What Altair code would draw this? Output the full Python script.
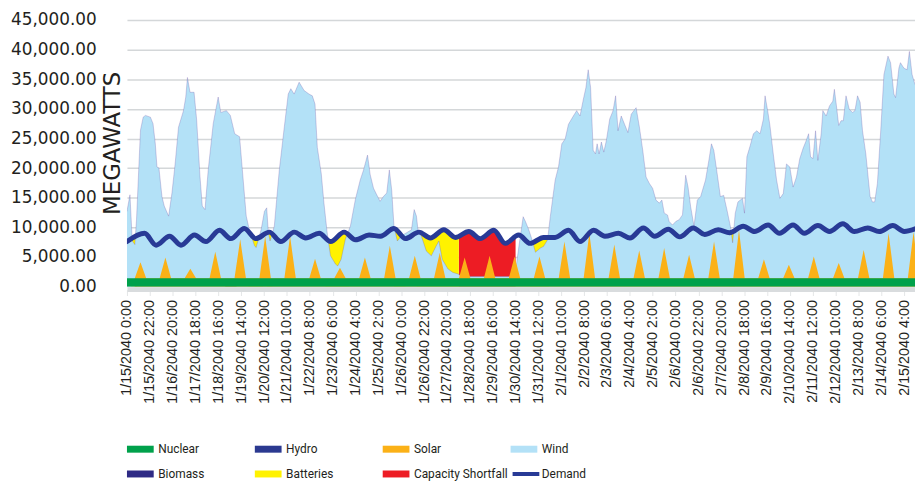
import altair as alt
import pandas as pd

# ---------------- categories / legend ----------------
SERIES = ["Nuclear", "Hydro", "Solar", "Wind", "Biomass", "Batteries",
          "Capacity Shortfall", "Demand"]
COLORS = ["#00A14B", "#2B3990", "#FBB117", "#B3E1F7", "#2E2A85", "#FFF200",
          "#ED1C24", "#283A96"]
RECT = "M-2,-0.52H2V0.52H-2Z"
LINE = "M-1.7,-0.3H2.3V0.3H-1.7Z"
SHAPES = [RECT] * 7 + [LINE]

# ---------------- x axis (hours since 1/15/2040 0:00) ----------------
TICK_HOURS = list(range(0, 749, 22))
TICK_LABELS = [
    "1/15/2040 0:00", "1/15/2040 22:00", "1/16/2040 20:00", "1/17/2040 18:00",
    "1/18/2040 16:00", "1/19/2040 14:00", "1/20/2040 12:00", "1/21/2040 10:00",
    "1/22/2040 8:00", "1/23/2040 6:00", "1/24/2040 4:00", "1/25/2040 2:00",
    "1/26/2040 0:00", "1/26/2040 22:00", "1/27/2040 20:00", "1/28/2040 18:00",
    "1/29/2040 16:00", "1/30/2040 14:00", "1/31/2040 12:00", "2/1/2040 10:00",
    "2/2/2040 8:00", "2/3/2040 6:00", "2/4/2040 4:00", "2/5/2040 2:00",
    "2/6/2040 0:00", "2/6/2040 22:00", "2/7/2040 20:00", "2/8/2040 18:00",
    "2/9/2040 16:00", "2/10/2040 14:00", "2/11/2040 12:00", "2/12/2040 10:00",
    "2/13/2040 8:00", "2/14/2040 6:00", "2/15/2040 4:00",
]
X_MAX = 758.4
Y_TICKS = [0, 5000, 10000, 15000, 20000, 25000, 30000, 35000, 40000, 45000]

# ---------------- series values (MW) ----------------
NUCLEAR_MW = 1400

# daily solar peak generation, one value per day (1/15 .. 2/15)
SOLAR_PEAK_MW = [2700, 3500, 1600, 4500, 6600, 7100, 7100, 3300, 1800, 3500,
                 5500, 3800, 4300, 3500, 3800, 3700, 3700, 6200, 7600, 5700,
                 4700, 5100, 4000, 6200, 8100, 3200, 2300, 3700, 2600, 4800,
                 7600, 7800]

# top of the stacked wind band (hour, MW)
WIND_TOP = [
    (0, 12700), (2.9, 15500), (5.1, 7700), (7.6, 7100), (9.2, 11300), (13.0, 26400),
    (15.6, 28600), (17.8, 28900), (22.6, 28600), (25.1, 27500), (27.3, 24100),
    (28.9, 20200), (30.8, 20000), (33.7, 15200), (35.9, 13600), (40.1, 11900),
    (43.3, 15800), (46.4, 20800), (49.6, 26900), (54.4, 29700), (56.6, 32000),
    (58.2, 35300), (60.7, 32800), (64.6, 32800), (67.1, 28100), (70.3, 18600),
    (72.5, 13600), (75.1, 13000), (78.2, 19700), (83.0, 27500), (87.8, 32000),
    (90.3, 29400), (95.7, 29700), (99.5, 28900), (103.7, 25800), (108.4, 25300),
    (111.6, 18600), (114.8, 11900), (118.0, 9400), (122.8, 6900), (124.3, 6600),
    (129.1, 9600), (132.3, 12700), (134.5, 13300), (136.1, 9100), (137.7, 7700),
    (141.8, 10200), (146.6, 19700), (151.4, 26900), (155.2, 32500), (157.7, 33400),
    (160.9, 32500), (165.7, 34500), (170.5, 33100), (175.2, 32500), (178.4, 32200),
    (181.0, 30800), (183.2, 23500), (187.0, 19100), (189.6, 14100), (192.7, 9100),
    (195.9, 5200), (200.7, 3800), (202.9, 3500), (206.1, 4600), (210.2, 8000),
    (215.0, 10200), (219.8, 14700), (224.5, 18000), (227.7, 19700), (231.5, 22200),
    (234.1, 18900), (237.3, 16600), (240.4, 15500), (243.6, 14400), (246.8, 15200),
    (250.0, 15800), (252.5, 19700), (254.8, 16300), (257.0, 10200), (260.2, 7700),
    (264.3, 8600), (269.1, 9100), (273.8, 9600), (276.4, 13000), (278.6, 11900),
    (280.2, 9400), (283.4, 8500), (288.1, 6000), (292.9, 5200), (297.7, 6900),
    (300.2, 7700), (303.4, 4600), (308.8, 3000), (313.6, 2400), (319.3, 2100),
    (321.5, 1700), (372.0, 1700), (373.7, 2300), (377.2, 6800), (381.3, 11800),
    (383.5, 11000), (386.7, 9600), (389.9, 7900), (393.1, 5800), (397.8, 6500),
    (401.0, 6800), (404.8, 7900), (407.4, 11800), (412.1, 18000), (415.3, 20200),
    (418.5, 24100), (421.7, 24900), (424.9, 27400), (429.6, 28800), (432.8, 29700),
    (436.0, 28800), (439.2, 31600), (441.7, 33600), (443.9, 36600), (446.2, 33600),
    (448.7, 23000), (450.9, 22400), (452.5, 24100), (454.4, 22400), (456.6, 24400),
    (458.9, 22700), (461.4, 24700), (464.6, 28300), (467.8, 29700), (470.3, 32200),
    (472.6, 26300), (475.7, 28800), (478.9, 27400), (482.1, 26000), (485.3, 29100),
    (490.0, 30200), (493.2, 26900), (496.4, 23000), (499.6, 18500), (502.8, 17400),
    (505.9, 16600), (509.1, 14600), (512.3, 14100), (514.8, 14600), (517.1, 12400),
    (520.2, 12100), (521.8, 11000), (525.0, 10400), (528.2, 11000), (531.4, 11300),
    (534.6, 12100), (537.7, 18800), (540.0, 16800), (542.5, 13500), (545.7, 10200),
    (548.9, 14600), (552.1, 15200), (556.8, 18000), (560.0, 21300), (562.5, 24100),
    (564.8, 23000), (568.0, 19100), (571.1, 15200), (574.3, 15400), (577.5, 12900),
    (580.7, 10200), (582.9, 7400), (585.4, 12400), (588.0, 14300), (592.4, 14900),
    (594.3, 12400), (596.6, 21900), (599.8, 23800), (602.9, 25800), (606.1, 26300),
    (609.3, 25800), (612.5, 28300), (614.1, 32200), (616.6, 29700), (618.8, 27200),
    (622.0, 22400), (625.2, 18000), (628.4, 14900), (631.6, 15700), (634.7, 20700),
    (637.9, 20200), (641.1, 16800), (644.3, 18500), (647.5, 21600), (650.6, 23300),
    (653.8, 24700), (656.0, 25800), (657.9, 21900), (660.2, 21600), (662.7, 26300),
    (664.9, 21300), (668.1, 25800), (669.7, 29700), (672.9, 28800), (676.1, 30500),
    (679.3, 31300), (680.8, 33300), (682.4, 31100), (685.0, 27200), (687.2, 28000),
    (689.4, 28000), (692.0, 32200), (695.2, 29900), (698.3, 29400), (700.6, 29700),
    (703.1, 32200), (705.6, 31100), (707.9, 26300), (711.1, 22400), (713.3, 18500),
    (715.2, 15200), (717.4, 14300), (719.6, 14300), (722.2, 17400), (725.4, 26300),
    (728.5, 35800), (732.4, 38900), (734.9, 37800), (738.1, 32500), (739.7, 31900),
    (742.9, 36900), (744.4, 37800), (747.6, 36900), (750.8, 36600), (753.0, 39700),
    (755.6, 35800), (758.4, 34100),
]

# top of the battery band, visible stretches (segment, hour, MW)
BATTERY_TOP = [
    (1, 4, 7800), (1, 6, 8000), (1, 8, 8200), (1, 9.5, 8400),
    (2, 117, 8900), (2, 120, 8400), (2, 124, 7900), (2, 128, 8100), (2, 131, 8500),
    (3, 135, 8900), (3, 137.5, 9000), (3, 140, 8900),
    (4, 191, 8300), (4, 194, 7800), (4, 197, 7500), (4, 201, 8000), (4, 205, 8500),
    (4, 209, 9000), (4, 212, 9000), (4, 214, 8700),
    (5, 257, 9600), (5, 259, 9400), (5, 261, 9000), (5, 264, 8500), (5, 268, 8200),
    (6, 279, 9000), (6, 283, 9100), (6, 288, 8600), (6, 292, 8100), (6, 297, 8600),
    (6, 301, 9200), (6, 305, 9400), (6, 309, 9200), (6, 313, 8600), (6, 317, 8200),
    (6, 319.4, 8300),
    (7, 388, 7200), (7, 392, 7500), (7, 396, 7900), (7, 400, 8200), (7, 404, 8100),
    (7, 406, 7900),
    (8, 580, 8900), (8, 582.5, 8900), (8, 585, 9000),
]

# top of the capacity-shortfall band (hour, MW)
SHORTFALL_TOP = [
    (319.4, 8300), (323, 8600), (326, 9000), (329, 9200), (333, 9000), (337, 8500),
    (340, 8000), (344, 8400), (348, 9000), (353, 9400), (357, 9100), (361, 8100),
    (364, 7200), (368, 7600), (371, 8100), (374, 8400),
]

# demand: start value, daily early-morning lows (days 2..32) and evening highs
DEMAND_START_MW = 7600
DEMAND_LOW_MW = [7000, 7000, 7600, 8100, 8100, 7600, 8200, 7600, 7900, 8500,
                 8100, 8200, 8300, 8100, 7300, 7300, 8300, 7600, 8500, 8200,
                 8500, 8400, 8800, 9100, 9300, 9000, 9000, 9300, 9300, 9300, 9300]
DEMAND_HIGH_MW = [9000, 8500, 8700, 9500, 9800, 9200, 9200, 9000, 9200, 8700,
                  9800, 9200, 9600, 9300, 9500, 8700, 8300, 9500, 9500, 9000,
                  9900, 9700, 9900, 9600, 10200, 10400, 10400, 10300, 10600, 9900,
                  10300, 9900]

# ---------------- tables ----------------
nuclear_df = pd.DataFrame({"h": [0, X_MAX], "mw": [NUCLEAR_MW, NUCLEAR_MW]})

solar_rows = []
for d, peak in enumerate(SOLAR_PEAK_MW):
    solar_rows += [(24 * d + 7.5, NUCLEAR_MW), (24 * d + 13, NUCLEAR_MW + peak),
                   (24 * d + 18.5, NUCLEAR_MW)]
solar_df = pd.DataFrame(solar_rows, columns=["h", "mw"])

wind_df = pd.DataFrame(WIND_TOP, columns=["h", "mw"])
battery_df = pd.DataFrame(BATTERY_TOP, columns=["seg", "h", "mw"])
short_df = pd.DataFrame(SHORTFALL_TOP, columns=["h", "mw"])

dem_rows = [(0, DEMAND_START_MW)]
for d, hi in enumerate(DEMAND_HIGH_MW):
    if d >= 1:
        dem_rows.append((24 * d + 4, DEMAND_LOW_MW[d - 1]))
    dem_rows.append((24 * d + 17, hi))
demand_df = pd.DataFrame(dem_rows, columns=["h", "mw"])

legend_df = pd.DataFrame({"series": SERIES, "h": [100.0] * 8, "mw": [300.0] * 8})

# ---------------- encodings ----------------
labels_js = "[" + ",".join("'" + s + "'" for s in TICK_LABELS) + "]"
x_axis = alt.Axis(
    values=TICK_HOURS, labelExpr=f"{labels_js}[round(datum.value / 22)]",
    labelAngle=270, labelFont="Liberation Sans", labelFontSize=14.5,
    labelColor="#231F20", labelPadding=4, labelOverlap=False,
    domainColor="#D9DCDE", domainWidth=4, ticks=True, tickColor="#E4E6E7",
    tickSize=6, offset=3, grid=False, title=None,
)
y_axis = alt.Axis(
    values=Y_TICKS, format=",.2f", labelFont="DejaVu Sans", labelFontSize=17,
    labelColor="#231F20", labelPadding=31, ticks=False, domain=False,
    gridColor="#D4D7D9", gridWidth=1.5, title="MEGAWATTS",
    titleFont="DejaVu Sans", titleFontSize=23, titleFontWeight="normal",
    titleColor="#231F20", titleAngle=270, titleX=-8, titleY=124,
    titleAlign="center", titleBaseline="alphabetic",
)
x_enc = alt.X("h:Q", scale=alt.Scale(domain=[0, X_MAX], nice=False, zero=False),
              axis=x_axis)
y_enc = alt.Y("mw:Q", scale=alt.Scale(domain=[0, 45000], nice=False),
              axis=y_axis, stack=None)

legend = alt.Legend(
    orient="none", legendX=6.5, legendY=426, direction="horizontal", columns=4,
    gridAlign="all", symbolSize=182, symbolStrokeWidth=0, title=None,
    labelFont="Liberation Sans Narrow, Roboto, sans-serif",
    labelFontSize=12, labelColor="#231F20", labelOffset=11, columnPadding=2,
    rowPadding=12,
)

leg = alt.Chart(legend_df).mark_point(filled=True, opacity=1).encode(
    x=x_enc, y=y_enc,
    color=alt.Color("series:N", scale=alt.Scale(domain=SERIES, range=COLORS), legend=legend),
    shape=alt.Shape("series:N", scale=alt.Scale(domain=SERIES, range=SHAPES), legend=legend),
)
short = alt.Chart(short_df).mark_area(color="#ED1C24", clip=True).encode(x=x_enc, y=y_enc)
batt = alt.Chart(battery_df).mark_area(color="#FFF200", clip=True).encode(
    x=x_enc, y=y_enc, detail="seg:N")
wind = alt.Chart(wind_df).mark_area(color="#B3E1F7", clip=True).encode(x=x_enc, y=y_enc)
bio = alt.Chart(wind_df).mark_line(color="#6B4BA3", strokeWidth=0.6, opacity=0.45,
                                   clip=True).encode(x=x_enc, y=y_enc)
solar = alt.Chart(solar_df).mark_area(color="#FBB117", clip=True).encode(x=x_enc, y=y_enc)
nuc = alt.Chart(nuclear_df).mark_area(color="#00A14B", clip=True).encode(x=x_enc, y=y_enc)
dem = alt.Chart(demand_df).mark_line(color="#283A96", strokeWidth=5,
                                     interpolate="monotone", strokeCap="round",
                                     clip=True).encode(x=x_enc, y=y_enc)

chart = alt.layer(leg, short, batt, wind, bio, solar, nuc, dem).properties(
    width=795, height=269,
    autosize=alt.AutoSizeParams(type="none"),
    padding={"left": 120, "top": 10, "right": 0, "bottom": 194},
).configure(background="white").configure_view(stroke=None)

chart.save("out.html", embed_options={"renderer": "svg", "actions": False})
